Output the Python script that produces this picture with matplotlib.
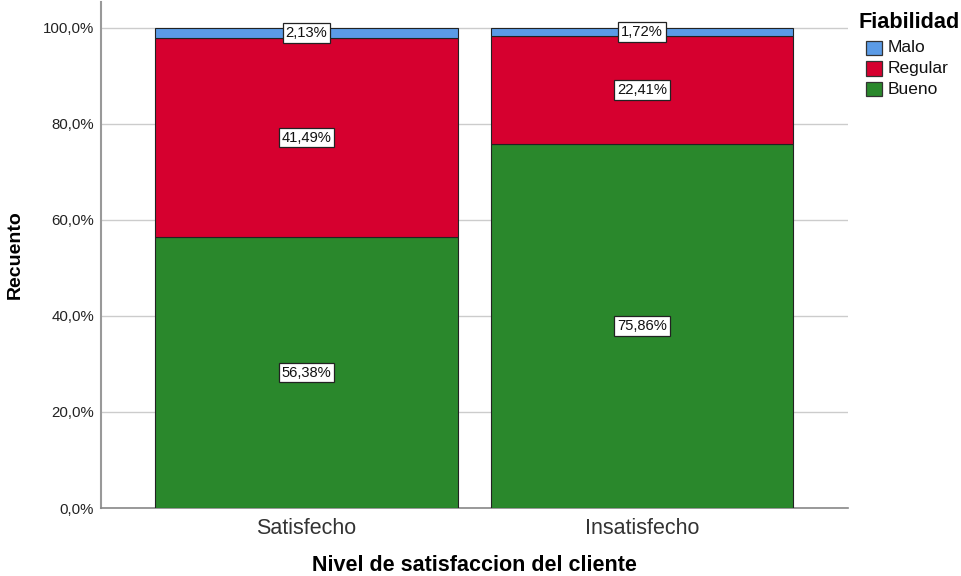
import numpy as np
import matplotlib.pyplot as plt
from matplotlib.patches import Rectangle

plt.rcParams['font.family'] = ['Liberation Sans', 'DejaVu Sans']

categorias = ['Satisfecho', 'Insatisfecho']
series = ['Bueno', 'Regular', 'Malo']
bueno = [56.38, 75.86]
regular = [41.49, 22.41]
malo = [2.13, 1.72]
colores = {'Bueno': '#2a882c', 'Regular': '#d6002f', 'Malo': '#5b9be6'}

fig = plt.figure(figsize=(9.61, 5.76), dpi=100)
W, H = 961, 576
ax = fig.add_axes([101 / W, (H - 508) / H, (848 - 101) / W, (508 - 2) / H])

x = np.arange(len(categorias))
bottom = np.zeros(len(categorias))
for nombre, vals in zip(series, [bueno, regular, malo]):
    vals = np.array(vals)
    ax.bar(x, vals, 0.903, bottom=bottom, color=colores[nombre],
           edgecolor='#222222', linewidth=0.8, zorder=3)
    for xi, v, b0 in zip(x, vals, bottom):
        ax.text(xi, b0 + v / 2, f'{v:.2f}%'.replace('.', ','), ha='center', va='center',
                fontsize=10.6, color='#111111', zorder=5,
                bbox=dict(boxstyle='square,pad=0.18', fc='white', ec='#222222', lw=0.9))
    bottom += vals

ax.set_xlim(-0.6125, 1.614)
ax.set_ylim(0, 105.4)
ax.set_yticks([0, 20, 40, 60, 80, 100])
ax.set_yticklabels(['0,0%', '20,0%', '40,0%', '60,0%', '80,0%', '100,0%'], fontsize=10.8, color='#222222')
ax.set_xticks(x)
ax.set_xticklabels(categorias, fontsize=15.5, color='#333333')
ax.tick_params(axis='y', length=0, pad=5)
ax.tick_params(axis='x', length=0, pad=7)
ax.grid(axis='y', color='#cccccc', linewidth=1, zorder=0)
for s in ['top', 'right']:
    ax.spines[s].set_visible(False)
ax.spines['left'].set_color('#999999')
ax.spines['bottom'].set_color('#888888')
ax.spines['left'].set_linewidth(1.5)
ax.spines['bottom'].set_linewidth(1.2)

ax.set_ylabel('Recuento', fontsize=14, fontweight='bold', labelpad=14)
ax.set_xlabel('Nivel de satisfaccion del cliente', fontsize=15.5, fontweight='bold', labelpad=12)

# leyenda
fig.text(858 / W, 1 - 28 / H, 'Fiabilidad', fontsize=15.6, fontweight='bold', ha='left', va='baseline')
leyenda = ['Malo', 'Regular', 'Bueno']
for i, nombre in enumerate(leyenda):
    yc = 48 + i * 20.5
    fig.patches.append(Rectangle((866 / W, 1 - (yc + 7) / H), 16 / W, 14 / H,
                                 transform=fig.transFigure, facecolor=colores[nombre],
                                 edgecolor='#333333', linewidth=0.9))
    fig.text(888 / W, 1 - yc / H, nombre, fontsize=12.5, ha='left', va='center', color='#111111')

fig.savefig('out.png', dpi=100)
